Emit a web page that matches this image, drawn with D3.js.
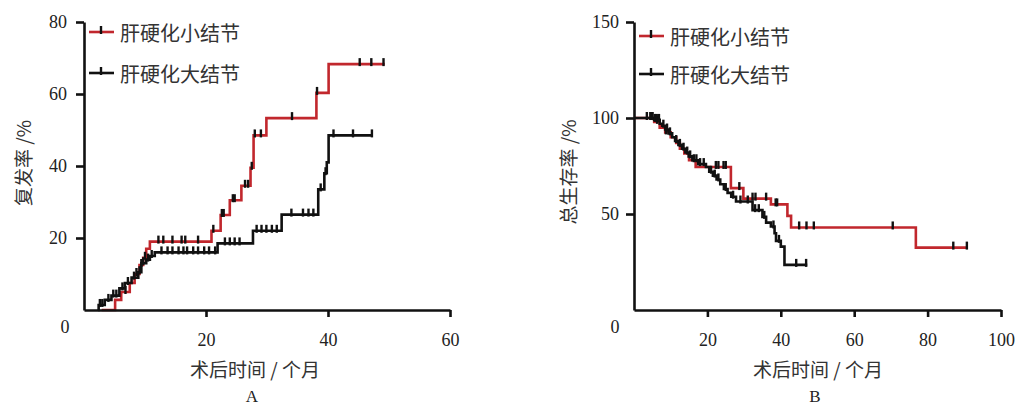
<!DOCTYPE html>
<html>
<head>
<meta charset="utf-8">
<script src="https://cdn.jsdelivr.net/npm/d3@7"></script>
<style>
  body { margin: 0; background: #fff; }
  svg { display: block; }
</style>
</head>
<body>
<div id="chart"></div>
<script>
// A: 复发率 (cumulative recurrence), steps as [month, %]
var aSmallSteps = [[2.9,0],[5.1,2.8],[6.1,5],[7.5,7.5],[8.3,10],[9.1,12.5],[9.7,14.5],[10.2,17],[10.8,19],
    [20.9,22],[22.4,26.4],[23.9,30.5],[25.8,34.5],[27.3,39.5],[27.8,48.5],[29.9,53.3],[38.1,60.3],[40.1,68.3],[49.3,68.3]];
var aLargeSteps = [[2.3,0],[2.4,1.4],[3.4,2.8],[4.5,4],[5.8,6],[6.7,7.5],[7.8,9],[8.9,10.5],[9.4,13],[10.2,14],[10.8,15],[11.6,16],
    [21.9,18.5],[27.7,22],[32.4,26.5],[38.4,33.5],[39.4,38],[39.8,41],[40.1,48.5],[47.2,48.5]];
var aSmallCensor = [6.8,8.6,9.4,10.0,12.2,13.0,14.5,16.0,16.6,18.7,21.2,22.6,22.9,24.4,24.7,26.4,26.9,27.5,28.0,29.0,34.1,38.2,45.2,47.1,49.1];
var aLargeCensor = [2.6,3.0,4.0,4.8,5.3,6.3,7.2,8.2,9.1,9.7,10.5,11.1,12.7,13.7,14.5,15.5,16.3,16.9,17.9,18.7,19.7,20.5,21.5,
    23.1,23.9,24.7,25.5,28.3,29.1,29.9,30.8,31.6,34.0,35.9,36.8,37.6,38.8,39.6,40.9,44.1,47.2];

// B: 总生存率 (overall survival)
var bSmallSteps = [[0,100],[5.5,98],[7,95],[8.5,92.5],[10,90],[11.5,87],[12.5,84],[13.7,81.5],[15,78],[16.8,74.5],
    [26.4,63.5],[29.8,58],[37.3,55],[41.8,49],[42.8,43],[76.8,32.5],[90.7,32.5]];
var bLargeSteps = [[0,100],[5.5,99],[7,97],[7.7,96],[8.5,94],[9.4,92],[10.4,90],[11.2,88],[12.1,86],[13.1,84],[14,82],[14.9,80],
    [15.9,78],[17.5,76],[19.6,74.5],[20.5,72],[21.5,70],[22.5,68],[23.5,65.5],[24.5,63],[25.5,61],[26.5,59],[27.8,56.5],
    [32.3,52],[35,48.5],[36,45.5],[37.3,43.5],[38.3,40],[38.7,36],[40,33],[41,23.5],[47.2,23.5]];
var bSmallCensor = [3.5,4.5,5,6.3,8.7,22.3,23,24.4,25,28.7,32.3,33.1,36,38.6,39,45,47,49,70.5,87,90.7];
var bLargeCensor = [4.5,5,5.7,6.2,6.8,8,9,9.8,11.5,12.5,13.5,14.5,15.3,16.3,17,18,19,21,22,23,25,27,29,31,33,34,35.5,38,39.5,44.2,46.9];

var seriesNames = ['肝硬化小结节', '肝硬化大结节'];
var seriesColors = ['#c1272d', '#111'];
var aXTicks = [20, 40, 60], aYTicks = [20, 40, 60, 80];
var bXTicks = [20, 40, 60, 80, 100], bYTicks = [50, 100, 150];

var W = 1018, H = 406;
var cjk = '"Noto Sans CJK SC", "Noto Sans", sans-serif';
var serif = '"Liberation Serif", "DejaVu Serif", serif';

var svg = d3.select('#chart').append('svg')
    .attr('width', W).attr('height', H);

function valueAt(steps, t) {
    var v = steps[0][1];
    steps.forEach(function (s) { if (s[0] <= t) v = s[1]; });
    return v;
}

function drawPanel(opt) {
    var x = d3.scaleLinear().domain(opt.xDomain).range(opt.xRange);
    var y = d3.scaleLinear().domain(opt.yDomain).range([310, 22]);
    var g = svg.append('g');

    var line = d3.line()
        .x(function (d) { return x(d[0]); })
        .y(function (d) { return y(d[1]); })
        .curve(d3.curveStepAfter);

    // Kurven
    opt.series.forEach(function (s, i) {
        g.append('path')
            .datum(s.steps)
            .attr('d', line)
            .attr('fill', 'none')
            .attr('stroke', seriesColors[i])
            .attr('stroke-width', 2.6);
        g.selectAll(null)
            .data(s.censor)
            .enter().append('line')
            .attr('x1', function (d) { return x(d); })
            .attr('x2', function (d) { return x(d); })
            .attr('y1', function (d) { return y(valueAt(s.steps, d)) - 6; })
            .attr('y2', function (d) { return y(valueAt(s.steps, d)) + 2; })
            .attr('stroke', '#111')
            .attr('stroke-width', 2.4);
    });

    // Achsen
    var xAxis = g.append('g')
        .attr('transform', 'translate(0,310)')
        .call(d3.axisBottom(x).tickValues(opt.xTicks).tickSize(7).tickSizeOuter(0).tickPadding(16));
    var yAxis = g.append('g')
        .attr('transform', 'translate(' + opt.xRange[0] + ',0)')
        .call(d3.axisLeft(y).tickValues(opt.yTicks).tickSize(8).tickSizeOuter(0).tickPadding(opt.yPad));
    [xAxis, yAxis].forEach(function (a) {
        a.select('.domain').attr('stroke', '#111').attr('stroke-width', 2.6);
        a.selectAll('.tick line').attr('stroke', '#111').attr('stroke-width', 2.6);
        a.selectAll('.tick text').attr('font-family', serif).attr('font-size', 18).attr('fill', '#222');
    });

    g.append('text')
        .attr('x', opt.zeroX).attr('y', 327)
        .attr('text-anchor', 'middle').attr('dominant-baseline', 'central')
        .attr('font-family', serif).attr('font-size', 18).attr('fill', '#222')
        .text('0');

    // Achsentitel
    g.append('text')
        .attr('transform', 'translate(' + opt.yTitleX + ',' + opt.yTitleY + ') rotate(-90)')
        .attr('text-anchor', 'middle').attr('dominant-baseline', 'central')
        .attr('font-family', cjk).attr('font-size', 19).attr('fill', '#333')
        .text(opt.yTitle);
    g.append('text')
        .attr('x', opt.xTitleX).attr('y', 368)
        .attr('text-anchor', 'middle').attr('dominant-baseline', 'central')
        .attr('font-family', cjk).attr('font-size', 19).attr('fill', '#333')
        .text('术后时间 / 个月');
    g.append('text')
        .attr('x', opt.xTitleX - 3).attr('y', 396)
        .attr('text-anchor', 'middle').attr('dominant-baseline', 'central')
        .attr('font-family', serif).attr('font-size', 17).attr('fill', '#222')
        .text(opt.letter);

    // Legende
    opt.legendY.forEach(function (ly, i) {
        var lx = opt.legendX;
        g.append('line')
            .attr('x1', lx).attr('x2', lx + 25).attr('y1', ly).attr('y2', ly)
            .attr('stroke', seriesColors[i]).attr('stroke-width', 2.6);
        g.append('line')
            .attr('x1', lx + 12).attr('x2', lx + 12).attr('y1', ly - 6).attr('y2', ly + 2)
            .attr('stroke', '#111').attr('stroke-width', 2.4);
        g.append('text')
            .attr('x', lx + 31).attr('y', ly)
            .attr('dominant-baseline', 'central')
            .attr('font-family', cjk).attr('font-size', 20).attr('fill', '#333')
            .text(seriesNames[i]);
    });
}

drawPanel({
    xDomain: [0, 60], xRange: [84, 450], yDomain: [0, 80],
    xTicks: aXTicks, yTicks: aYTicks, yPad: 9, zeroX: 65,
    series: [{ steps: aSmallSteps, censor: aSmallCensor }, { steps: aLargeSteps, censor: aLargeCensor }],
    yTitle: '复发率 /%', yTitleX: 22, yTitleY: 163, xTitleX: 255, letter: 'A',
    legendX: 89, legendY: [32, 73]
});

drawPanel({
    xDomain: [0, 100], xRange: [634, 1001], yDomain: [0, 150],
    xTicks: bXTicks, yTicks: bYTicks, yPad: 7, zeroX: 615,
    series: [{ steps: bSmallSteps, censor: bSmallCensor }, { steps: bLargeSteps, censor: bLargeCensor }],
    yTitle: '总生存率 /%', yTitleX: 567, yTitleY: 172, xTitleX: 818, letter: 'B',
    legendX: 639, legendY: [36, 74]
});
</script>
</body>
</html>
